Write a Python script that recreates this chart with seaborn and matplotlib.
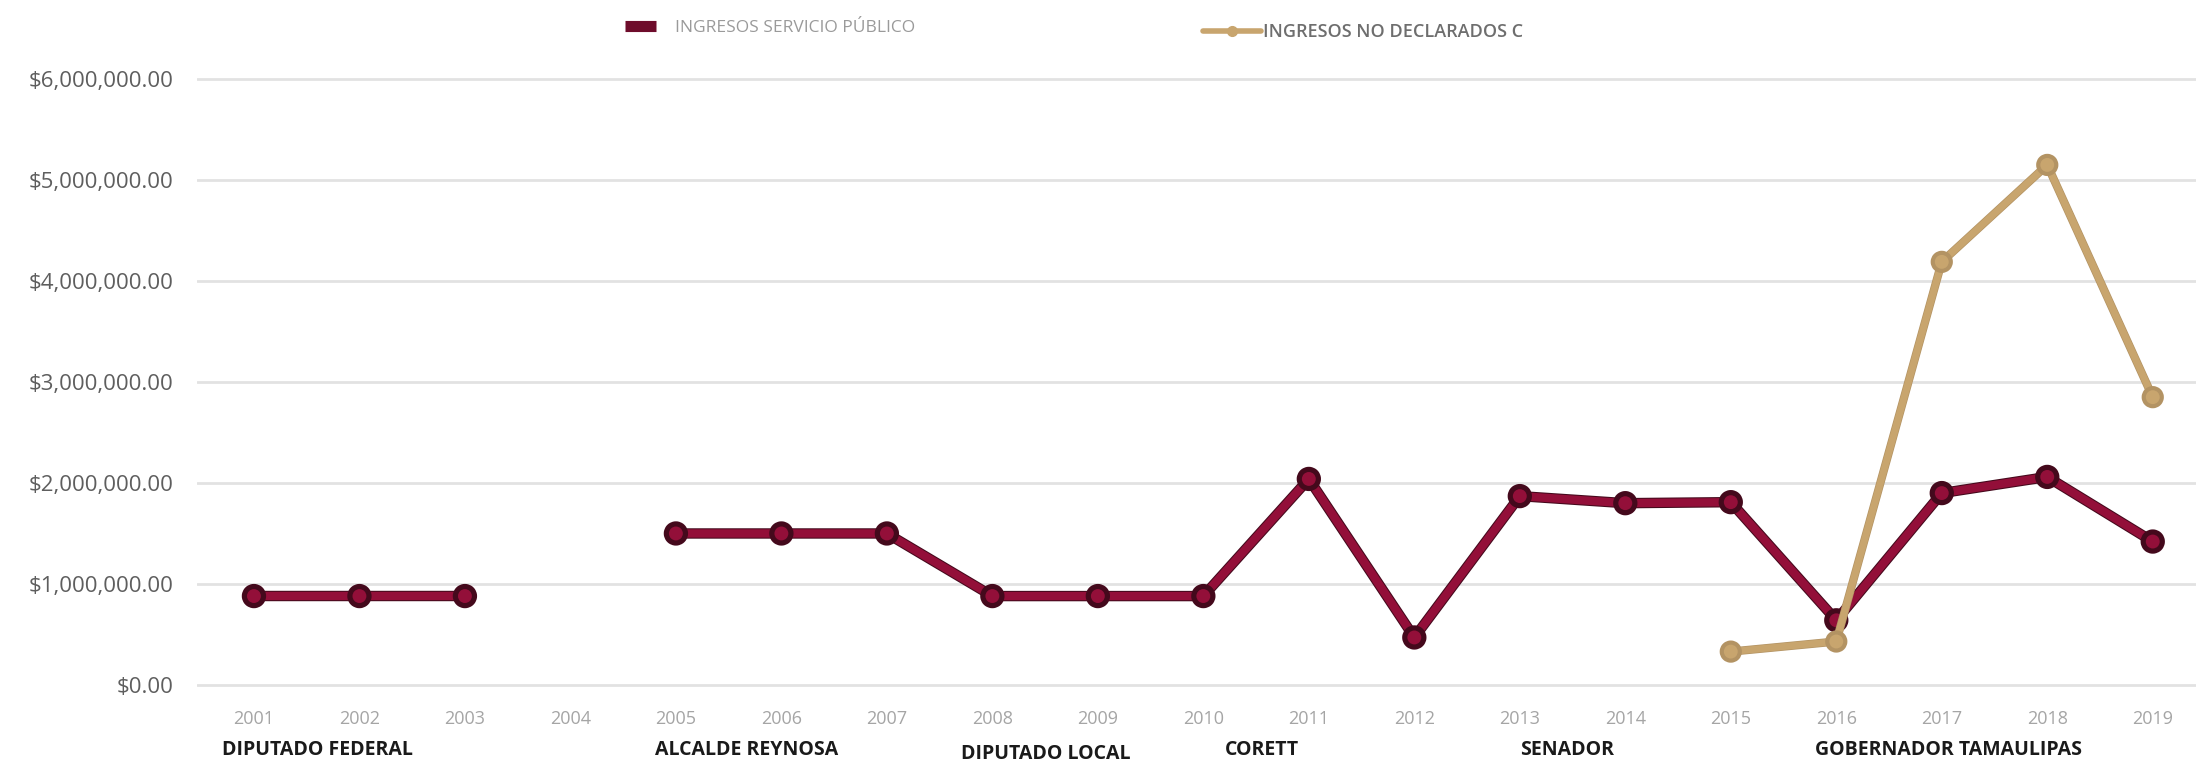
import numpy as np
import pandas as pd
import matplotlib
matplotlib.use('Agg')
import matplotlib.pyplot as plt
import matplotlib.patheffects as pe
from matplotlib.lines import Line2D
from matplotlib.ticker import FuncFormatter, MultipleLocator
from matplotlib import transforms
import seaborn as sns

# datos
anios = list(range(2001, 2020))
servicio_publico = [880000, 880000, 880000, np.nan, 1500000, 1500000, 1500000,
                    880000, 880000, 880000, 2040000, 470000, 1870000, 1800000,
                    1810000, 640000, 1900000, 2060000, 1420000]
no_declarados = [np.nan] * 14 + [330000, 430000, 4190000, 5150000, 2850000]

series = ['INGRESOS SERVICIO PÚBLICO', 'INGRESOS NO DECLARADOS C']
cargos = ['DIPUTADO FEDERAL', 'ALCALDE REYNOSA', 'DIPUTADO LOCAL', 'CORETT',
          'SENADOR', 'GOBERNADOR TAMAULIPAS']
cargos_x = [2000.7, 2004.8, 2007.7, 2010.2, 2013.0, 2015.8]
cargos_y = [0.013, 0.013, 0.008, 0.013, 0.013, 0.013]

colores = {series[0]: '#930F39', series[1]: '#C8A56E'}

sns.set_theme(style='white')
plt.rcParams['font.family'] = ['Open Sans', 'DejaVu Sans']


def a_tabla(valores, nombre):
    s = pd.Series(valores, dtype=float)
    tramo = s.isna().cumsum()
    df = pd.DataFrame({'anio': anios, 'monto': s, 'serie': nombre,
                       'tramo': nombre + tramo.astype(str)})
    return df.dropna()


datos = pd.concat([a_tabla(servicio_publico, series[0]),
                   a_tabla(no_declarados, series[1])], ignore_index=True)

fig = plt.figure(figsize=(21.96, 7.6), dpi=100)
ax = fig.add_axes([0.0897, 0.0855, 0.9103, 0.8237])

sns.lineplot(data=datos[datos.serie == series[0]], x='anio', y='monto',
             units='tramo', estimator=None, color=colores[series[0]],
             marker='o', markersize=10, markeredgewidth=0, linewidth=6,
             legend=False, ax=ax)
for ln in ax.lines:
    ln.set_path_effects([pe.Stroke(linewidth=7.5, foreground='#44091C'), pe.Normal()])
n_rojas = len(ax.lines)

sns.lineplot(data=datos[datos.serie == series[1]], x='anio', y='monto',
             units='tramo', estimator=None, color=colores[series[1]],
             marker='o', markersize=10, markeredgewidth=0, linewidth=5,
             legend=False, ax=ax)
for ln in ax.lines[n_rojas:]:
    ln.set_path_effects([pe.Stroke(linewidth=6, foreground='#B39363'), pe.Normal()])

ax.set_xlim(2000.46, 2019.41)
ax.set_ylim(-100000, 6100000)
ax.yaxis.set_major_locator(MultipleLocator(1000000))
ax.yaxis.set_major_formatter(FuncFormatter(lambda v, p: '${:,.2f}'.format(v)))
ax.set_xticks(anios)
ax.set_xticklabels([str(a) for a in anios])
ax.grid(axis='y', color='#E2E2E2', linewidth=2)
ax.set_axisbelow(True)
for s in ax.spines.values():
    s.set_visible(False)
ax.tick_params(axis='y', length=0, pad=17, labelsize=16, labelcolor='#5E5E5E')
ax.tick_params(axis='x', length=0, pad=11, labelsize=13, labelcolor='#A5A5A5')
ax.set_xlabel('')
ax.set_ylabel('')

# cargos bajo los años
trans = transforms.blended_transform_factory(ax.transData, fig.transFigure)
for texto, x, y in zip(cargos, cargos_x, cargos_y):
    ax.text(x, y, texto, transform=trans, ha='left', va='center',
            fontsize=14, fontweight='bold', color='#1A1A1A', clip_on=False)

# leyendas separadas
h1 = Line2D([0], [0], color='#6E0C2B', linewidth=8, solid_capstyle='butt')
leg1 = fig.legend([h1], [series[0]], loc='center left', bbox_to_anchor=(0.2846, 0.963),
                  frameon=False, borderpad=0, borderaxespad=0, handlelength=1.8,
                  handletextpad=1.1, fontsize=12.5, labelcolor='#9A9A9A')
h2 = Line2D([0], [0], color=colores[series[1]], linewidth=4, marker='o', markersize=7)
leg2 = fig.legend([h2], [series[1]], loc='center left', bbox_to_anchor=(0.5478, 0.958),
                  frameon=False, borderpad=0, borderaxespad=0, handlelength=3.2,
                  handletextpad=0.1, labelcolor='#6E6E6E',
                  prop={'weight': 'semibold', 'size': 13})

fig.savefig('out.png', dpi=100)
